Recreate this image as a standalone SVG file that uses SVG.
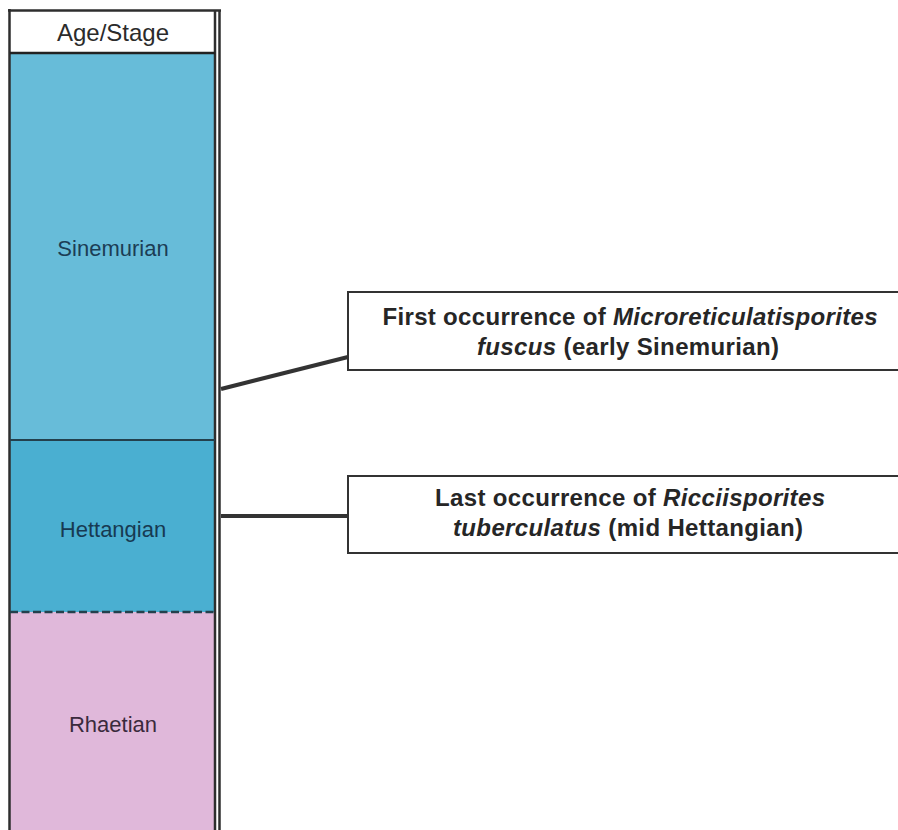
<svg xmlns="http://www.w3.org/2000/svg" width="898" height="830" viewBox="0 0 898 830">
<style>
.lbl{font-family:"Liberation Sans",Arial,sans-serif;font-size:22px;text-anchor:middle}
.hdr{font-family:"Liberation Sans",Arial,sans-serif;font-size:24px;text-anchor:middle;fill:#2b2b2b}
.box{fill:#ffffff;stroke:#333333;stroke-width:2}
.bt{font-family:"Liberation Sans",Arial,sans-serif;font-size:24px;font-weight:bold;text-anchor:middle;fill:#262626}
.it{font-style:italic}
.border{stroke:#2e2e2e;stroke-width:2.5;fill:none}
.conn{stroke:#333333;stroke-width:4;fill:none}
</style>
<rect width="898" height="830" fill="#ffffff"/>
<g id="column">
<g id="header">
<rect x="10" y="10" width="205" height="43" fill="#ffffff"/>
<text class="hdr" x="113" y="41">Age/Stage</text>
</g>
<g id="sinemurian">
<rect x="10" y="53" width="205" height="387" fill="#67bcd9"/>
<text class="lbl" x="113" y="256" fill="#1c3d55">Sinemurian</text>
</g>
<g id="hettangian">
<rect x="10" y="440" width="205" height="172" fill="#4aafd1"/>
<text class="lbl" x="113" y="537" fill="#173a52">Hettangian</text>
</g>
<g id="rhaetian">
<rect x="10" y="612" width="205" height="218" fill="#e0b8da"/>
<text class="lbl" x="113" y="732" fill="#3a2a3c">Rhaetian</text>
</g>
<line class="border" x1="9.5" y1="9" x2="9.5" y2="830"/>
<line class="border" x1="8" y1="10.5" x2="221" y2="10.5"/>
<line class="border" x1="215" y1="10" x2="215" y2="830"/>
<line class="border" x1="219.5" y1="10" x2="219.5" y2="830"/>
<line x1="10" y1="53" x2="215" y2="53" stroke="#222" stroke-width="2.5"/>
<line x1="10" y1="440" x2="215" y2="440" stroke="#23404d" stroke-width="2"/>
<line x1="10" y1="612" x2="215" y2="612" stroke="#23404d" stroke-width="2.5" stroke-dasharray="8,3.5"/>
</g>
<g id="connectors">
<line class="conn" x1="221" y1="389" x2="348" y2="357"/>
<line class="conn" x1="221" y1="516" x2="348" y2="516"/>
</g>
<g id="note-first">
<rect class="box" x="348" y="292" width="570" height="78"/>
<text class="bt" x="630" y="325" textLength="495">First occurrence of <tspan class="it">Microreticulatisporites</tspan></text>
<text class="bt" x="628" y="355" textLength="302"><tspan class="it">fuscus</tspan> (early Sinemurian)</text>
</g>
<g id="note-last">
<rect class="box" x="348" y="476" width="570" height="77"/>
<text class="bt" x="630" y="506" textLength="390">Last occurrence of <tspan class="it">Ricciisporites</tspan></text>
<text class="bt" x="628" y="536" textLength="350"><tspan class="it">tuberculatus</tspan> (mid Hettangian)</text>
</g>
</svg>
